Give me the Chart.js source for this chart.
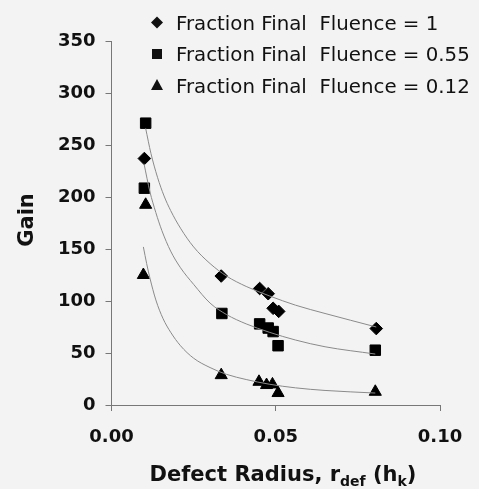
<!DOCTYPE html>
<html>
<head>
<meta charset="utf-8">
<script src="https://cdn.jsdelivr.net/npm/chart.js@4/dist/chart.umd.min.js"></script>
<style>
  html, body { margin: 0; padding: 0; background: #f2f3f2; }
  #wrap { width: 479px; height: 489px; position: relative; }
</style>
</head>
<body>
<div id="wrap"><canvas id="grafico" width="479" height="489"></canvas></div>
<script>
// Dados (raio do defeito x ganho)
const legendas = ['Fraction Final  Fluence = 1', 'Fraction Final  Fluence = 0.55', 'Fraction Final  Fluence = 0.12'];

const raioFl1 = [0.0100, 0.0334, 0.0451, 0.0477, 0.0492, 0.0509, 0.0806];
const ganhoFl1 = [237, 124, 112, 107, 93, 90, 73.5];

const raioFl055 = [0.0104, 0.0100, 0.0336, 0.0451, 0.0477, 0.0492, 0.0507, 0.0803];
const ganhoFl055 = [271, 208.5, 88, 78, 74, 70.6, 57, 52.7];

const raioFl012 = [0.0104, 0.0097, 0.0334, 0.0449, 0.0472, 0.0490, 0.0507, 0.0803];
const ganhoFl012 = [192.5, 125, 28.7, 22.3, 19.2, 19.8, 11.5, 12.7];

const curvaX1 = [0.0104, 0.012, 0.014, 0.016, 0.018, 0.021, 0.025, 0.030, 0.035, 0.041, 0.048, 0.056, 0.065, 0.0806];
const curvaY1 = [266, 242, 219, 201, 187, 170, 152, 136, 124, 114, 105, 96, 88, 75];

const curvaX2 = [0.0099, 0.0117, 0.0135, 0.0153, 0.018, 0.021, 0.025, 0.030, 0.035, 0.041, 0.048, 0.056, 0.065, 0.0803];
const curvaY2 = [232, 205, 185, 168, 148, 132, 116, 98, 87, 78, 70, 62.5, 56, 49];

const curvaX3 = [0.0097, 0.0107, 0.0117, 0.0135, 0.0157, 0.018, 0.021, 0.025, 0.030, 0.035, 0.041, 0.048, 0.056, 0.065, 0.0803];
const curvaY3 = [152, 136, 122, 101, 83, 70, 57, 45, 36, 29.5, 24.5, 20, 16.5, 14, 11.5];

const ticksX = [0, 0.05, 0.10];

// junta x e y em pontos
function pontos(xs, ys) {
    return xs.map((x, i) => ({ x: x, y: ys[i] }));
}

const fonte = 'DejaVu Sans';
Chart.defaults.font.family = fonte;

// Função para desenhar a legenda e os títulos dos eixos
const extras = {
    id: 'extras',
    afterDraw(chart) {
        const ctx = chart.ctx;
        ctx.save();
        ctx.fillStyle = '#111';
        ctx.textBaseline = 'alphabetic';

        // legenda
        ctx.font = '19.8px ' + fonte;
        const linhas = [29.5, 61, 92.5];
        const estilos = ['diamante', 'quadrado', 'triangulo'];
        linhas.forEach((yb, i) => {
            ctx.textAlign = 'left';
            ctx.fillText(legendas[i], 176, yb);
            const mx = 157, my = yb - 7;
            ctx.beginPath();
            if (estilos[i] === 'diamante') {
                ctx.moveTo(mx - 6, my); ctx.lineTo(mx, my - 6);
                ctx.lineTo(mx + 6, my); ctx.lineTo(mx, my + 6);
            } else if (estilos[i] === 'quadrado') {
                ctx.rect(mx - 5, my - 5, 10, 10);
            } else {
                ctx.moveTo(mx, my - 6.5); ctx.lineTo(mx + 6, my + 4.5); ctx.lineTo(mx - 6, my + 4.5);
            }
            ctx.closePath();
            ctx.fill();
        });

        // título do eixo y
        ctx.save();
        ctx.translate(33, 220);
        ctx.rotate(-Math.PI / 2);
        ctx.textAlign = 'center';
        ctx.font = 'bold 21px ' + fonte;
        ctx.fillText('Gain', 0, 0);
        ctx.restore();

        // título do eixo x com subscritos
        const partes = [
            ['Defect Radius, r', false],
            ['def', true],
            [' (h', false],
            ['k', true],
            [')', false]
        ];
        const fN = 'bold 21px ' + fonte, fS = 'bold 14px ' + fonte;
        let total = 0;
        partes.forEach(p => { ctx.font = p[1] ? fS : fN; total += ctx.measureText(p[0]).width; });
        let x = 283 - total / 2;
        const base = 481;
        ctx.textAlign = 'left';
        partes.forEach(p => {
            ctx.font = p[1] ? fS : fN;
            ctx.fillText(p[0], x, p[1] ? base + 5 : base);
            x += ctx.measureText(p[0]).width;
        });
        ctx.restore();
    }
};

const marcador = { pointBackgroundColor: '#000', pointBorderColor: '#000', showLine: false };
const curva = { borderColor: '#8a8a8a', borderWidth: 1, pointRadius: 0, showLine: true, cubicInterpolationMode: 'monotone', fill: false };

new Chart(document.getElementById('grafico'), {
    type: 'scatter',
    data: {
        datasets: [
            Object.assign({ data: pontos(curvaX1, curvaY1) }, curva),
            Object.assign({ data: pontos(curvaX2, curvaY2) }, curva),
            Object.assign({ data: pontos(curvaX3, curvaY3) }, curva),
            Object.assign({ label: legendas[0], data: pontos(raioFl1, ganhoFl1), pointStyle: 'rectRot', pointRadius: 6.3 }, marcador),
            Object.assign({ label: legendas[1], data: pontos(raioFl055, ganhoFl055), pointStyle: 'rect', pointRadius: 7.4 }, marcador),
            Object.assign({ label: legendas[2], data: pontos(raioFl012, ganhoFl012), pointStyle: 'triangle', pointRadius: 7 }, marcador)
        ]
    },
    options: {
        responsive: false,
        animation: false,
        layout: { padding: { left: 0, top: 41, right: 39, bottom: 0 } },
        plugins: {
            legend: { display: false },
            tooltip: { enabled: false }
        },
        scales: {
            x: {
                type: 'linear',
                min: 0,
                max: 0.1,
                afterBuildTicks: (s) => { s.ticks = ticksX.map(v => ({ value: v })); },
                afterFit: (s) => { s.height = 84; },
                ticks: {
                    color: '#111',
                    padding: 16,
                    maxRotation: 0,
                    font: { size: 18, weight: 'bold' },
                    callback: (v) => Number(v).toFixed(2)
                },
                grid: { drawOnChartArea: false, tickLength: 6, color: '#777' },
                border: { color: '#777', width: 1 }
            },
            y: {
                min: 0,
                max: 350,
                afterFit: (s) => { s.width = 111.5; },
                ticks: {
                    stepSize: 50,
                    color: '#111',
                    padding: 10,
                    font: { size: 18, weight: 'bold' }
                },
                grid: { drawOnChartArea: false, tickLength: 6, color: '#777' },
                border: { color: '#777', width: 1 }
            }
        }
    },
    plugins: [extras]
});
</script>
</body>
</html>
